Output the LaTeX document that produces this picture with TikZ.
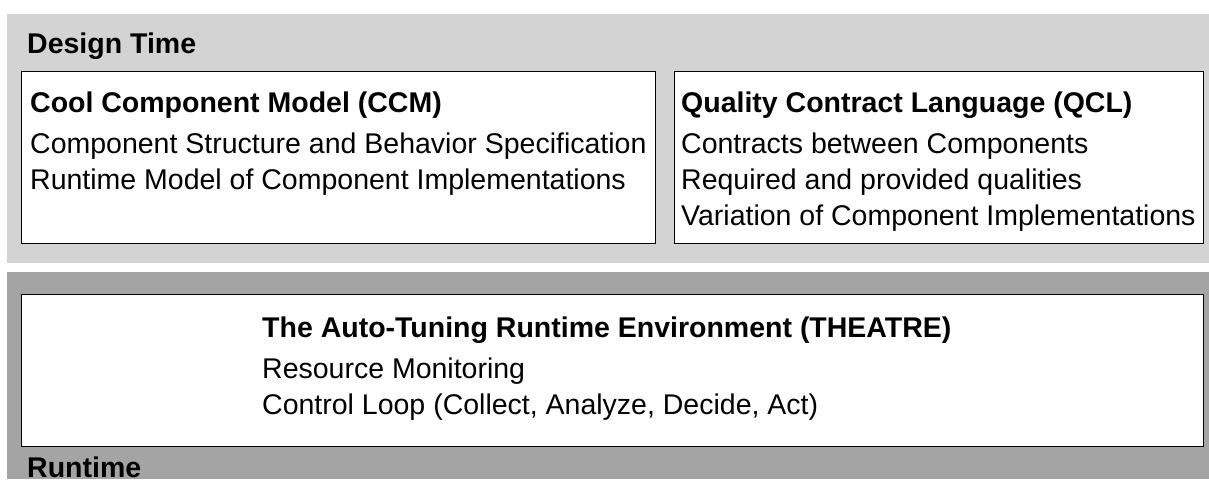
\documentclass[tikz,border=0pt]{standalone}
\usepackage{fontspec}
\setmainfont{Liberation Sans}
\begin{document}
\begin{tikzpicture}[x=1pt,y=-1pt,
  box/.style={draw=black, line width=1.5pt, fill=white, anchor=north west, inner sep=0pt},
  txt/.style={anchor=base west, inner sep=0pt, font=\fontsize{28.5}{34}\selectfont},
  head/.style={anchor=base west, inner sep=0pt, font=\fontsize{28.5}{34}\selectfont\bfseries}]
\useasboundingbox (0,0) rectangle (1209,479);
\fill[white] (0,0) rectangle (1209,479);
% panels
\fill[fill={rgb,255:red,211;green,211;blue,211}] (7,14) rectangle (1209,263);
\fill[fill={rgb,255:red,164;green,164;blue,164}] (7,272) rectangle (1209,479);
% boxes
\node[box, minimum width=634pt, minimum height=172pt] (ccm) at (20.5,70.5) {};
\node[box, minimum width=529pt, minimum height=172pt] (qcl) at (673.5,70.5) {};
\node[box, minimum width=1182pt, minimum height=152pt] (thr) at (20.5,293.5) {};
% labels
\node[head] (dt) at (27,53) {Design Time};
\node[head] (rt) at (27,477) {Runtime};
\node[head] (ccmh) at (30,112) {Cool Component Model (CCM)};
\node[txt] (ccm1) at (30,153) {Component Structure and Behavior Specification};
\node[txt] (ccm2) at (30,189) {Runtime Model of Component Implementations};
\node[head] (qclh) at (681,112) {Quality Contract Language (QCL)};
\node[txt] (qcl1) at (681,153) {Contracts between Components};
\node[txt] (qcl2) at (681,189) {Required and provided qualities};
\node[txt] (qcl3) at (681,225) {Variation of Component Implementations};
\node[head] (thrh) at (262,337) {The Auto-Tuning Runtime Environment (THEATRE)};
\node[txt] (thr1) at (262,378) {Resource Monitoring};
\node[txt] (thr2) at (262,414) {Control Loop (Collect, Analyze, Decide, Act)};
\end{tikzpicture}
\end{document}
